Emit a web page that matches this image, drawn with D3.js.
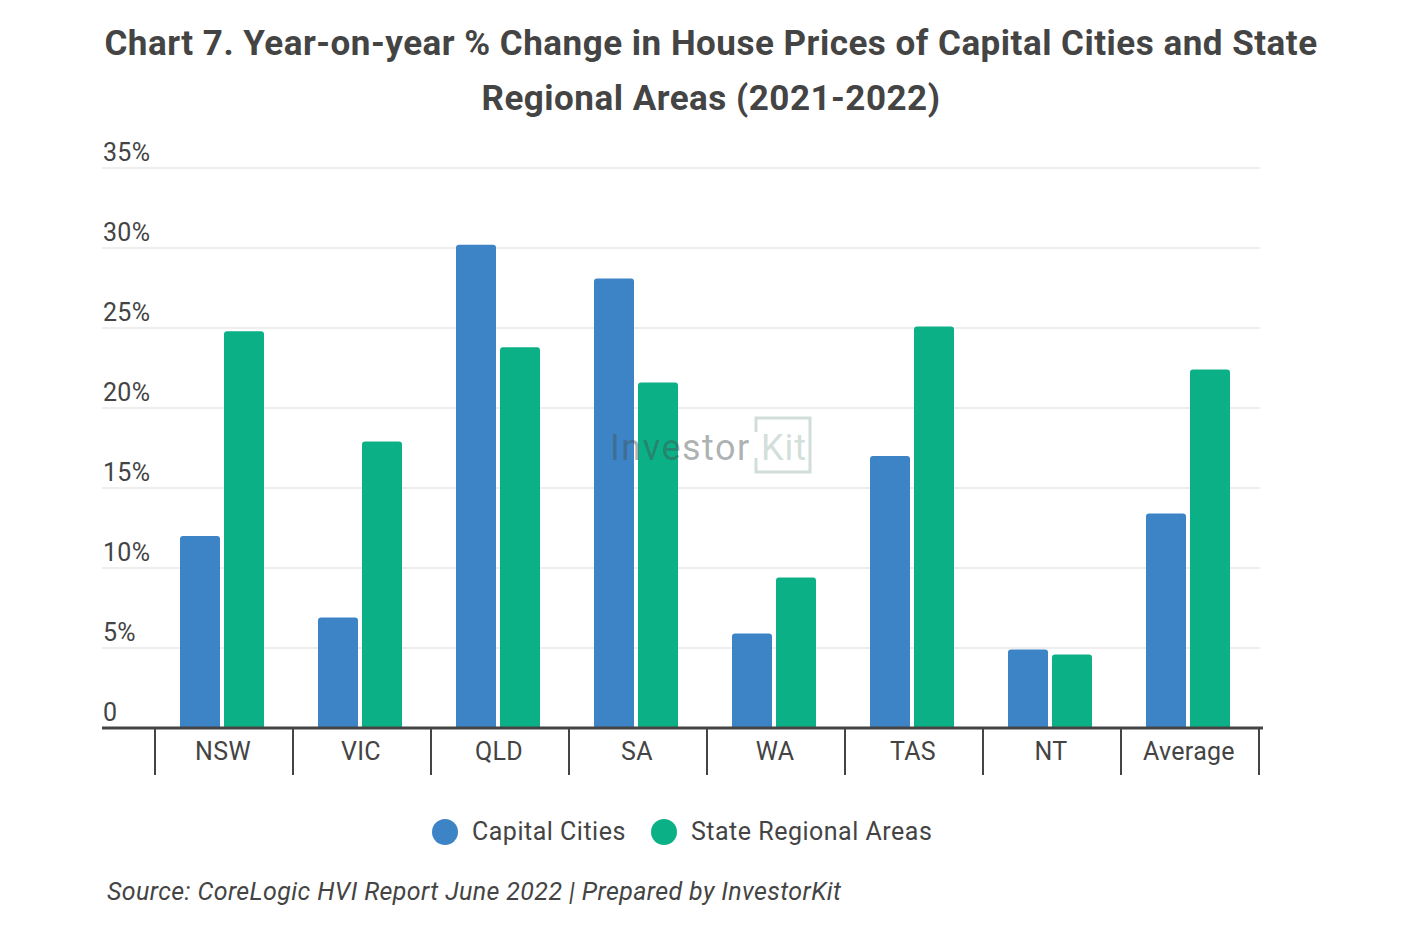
<!DOCTYPE html>
<html>
<head>
<meta charset="utf-8">
<script src="https://cdn.jsdelivr.net/npm/d3@7/dist/d3.min.js"></script>
<style>
  body { margin: 0; background: #fff; }
  svg text { font-family: Roboto, "Noto Sans", sans-serif; }
</style>
</head>
<body>
<svg id="chart" width="1420" height="934"></svg>
<script>
// -----------------------------
// Data
// -----------------------------
const categories = ["NSW", "VIC", "QLD", "SA", "WA", "TAS", "NT", "Average"];
const capitalCities = [12.0, 6.9, 30.2, 28.1, 5.9, 17.0, 4.9, 13.4];
const regionalAreas = [24.8, 17.9, 23.8, 21.6, 9.4, 25.1, 4.6, 22.4];
const seriesNames = ["Capital Cities", "State Regional Areas"];
const yTicks = [0, 5, 10, 15, 20, 25, 30, 35];

const COLORS = ["#3d84c6", "#0cb087"];
const TEXT = "#444444";

const svg = d3.select("#chart");

// -----------------------------
// Scales
// -----------------------------
const x = d3.scaleBand().domain(categories).range([155, 1259]).paddingInner(0).paddingOuter(0);
const y = d3.scaleLinear().domain([0, 35]).range([728, 168]);

const barW = 40;
const barGap = 4;

// -----------------------------
// Title
// -----------------------------
const title = svg.append("text")
  .attr("text-anchor", "middle")
  .style("font-size", "35px")
  .style("font-weight", "700")
  .style("letter-spacing", "0.5px")
  .style("fill", TEXT);
title.append("tspan").attr("x", 711).attr("y", 55)
  .text("Chart 7. Year-on-year % Change in House Prices of Capital Cities and State");
title.append("tspan").attr("x", 711).attr("y", 110)
  .text("Regional Areas (2021-2022)");

// -----------------------------
// Grid + y labels
// -----------------------------
svg.append("g").selectAll("line")
  .data(yTicks.filter(d => d > 0))
  .join("line")
  .attr("x1", 102).attr("x2", 1260)
  .attr("y1", d => y(d)).attr("y2", d => y(d))
  .attr("stroke", "#e8e8e8")
  .attr("stroke-width", 1.5);

svg.append("g").selectAll("text")
  .data(yTicks)
  .join("text")
  .attr("x", 103)
  .attr("y", d => y(d) - 7)
  .style("font-size", "25px")
  .style("letter-spacing", "0.3px")
  .style("fill", TEXT)
  .text(d => d === 0 ? "0" : d + "%");

// -----------------------------
// Bars
// -----------------------------
const rows = categories.map((c, i) => ({ cat: c, vals: [capitalCities[i], regionalAreas[i]] }));

const groups = svg.append("g").selectAll("g")
  .data(rows)
  .join("g")
  .attr("transform", d => `translate(${x(d.cat) + x.bandwidth() / 2 - 2},0)`);

groups.selectAll("path")
  .data(d => d.vals.map((v, k) => ({ v, k })))
  .join("path")
  .attr("fill", d => COLORS[d.k])
  .attr("d", d => {
    const x0 = d.k === 0 ? -barW - barGap / 2 : barGap / 2;
    const top = y(d.v), bot = y(0), r = 3;
    return `M${x0},${bot}V${top + r}Q${x0},${top} ${x0 + r},${top}H${x0 + barW - r}Q${x0 + barW},${top} ${x0 + barW},${top + r}V${bot}Z`;
  });

// -----------------------------
// Watermark
// -----------------------------
const wm = svg.append("g");
wm.append("text")
  .attr("x", 610).attr("y", 460)
  .style("font-size", "36px")
  .style("letter-spacing", "1.5px")
  .style("fill", "rgba(70,80,80,0.45)")
  .text("Investor");
wm.append("text")
  .attr("x", 761).attr("y", 460)
  .style("font-size", "36px")
  .style("letter-spacing", "1px")
  .style("fill", "rgba(140,170,158,0.4)")
  .text("Kit");
wm.append("path")
  .attr("d", "M756,432V418H810V472H756V458")
  .attr("fill", "none")
  .attr("stroke", "rgba(140,170,158,0.4)")
  .attr("stroke-width", 3);

// -----------------------------
// X axis
// -----------------------------
svg.append("line")
  .attr("x1", 102).attr("x2", 1263)
  .attr("y1", 728).attr("y2", 728)
  .attr("stroke", TEXT)
  .attr("stroke-width", 3);

const tickXs = categories.map(c => x(c)).concat([x.range()[1]]);
svg.append("g").selectAll("line")
  .data(tickXs)
  .join("line")
  .attr("x1", d => d).attr("x2", d => d)
  .attr("y1", 728).attr("y2", 775)
  .attr("stroke", TEXT)
  .attr("stroke-width", 2);

svg.append("g").selectAll("text")
  .data(categories)
  .join("text")
  .attr("x", d => x(d) + x.bandwidth() / 2 - 1)
  .attr("y", 760)
  .attr("text-anchor", "middle")
  .style("font-size", "25px")
  .style("letter-spacing", "0.3px")
  .style("fill", TEXT)
  .text(d => d);

// -----------------------------
// Legend
// -----------------------------
const legendX = [445, 664];
const legend = svg.append("g").selectAll("g")
  .data(seriesNames)
  .join("g")
  .attr("transform", (d, i) => `translate(${legendX[i]},832)`);
legend.append("circle").attr("r", 13).attr("fill", (d, i) => COLORS[i]);
legend.append("text")
  .attr("x", 27).attr("y", 8)
  .style("font-size", "25px")
  .style("letter-spacing", "0.5px")
  .style("fill", TEXT)
  .text(d => d);

// -----------------------------
// Source
// -----------------------------
svg.append("text")
  .attr("x", 107).attr("y", 900)
  .style("font-size", "25px")
  .style("font-style", "italic")
  .style("letter-spacing", "0.4px")
  .style("fill", TEXT)
  .text("Source: CoreLogic HVI Report June 2022 | Prepared by InvestorKit");
</script>
</body>
</html>
